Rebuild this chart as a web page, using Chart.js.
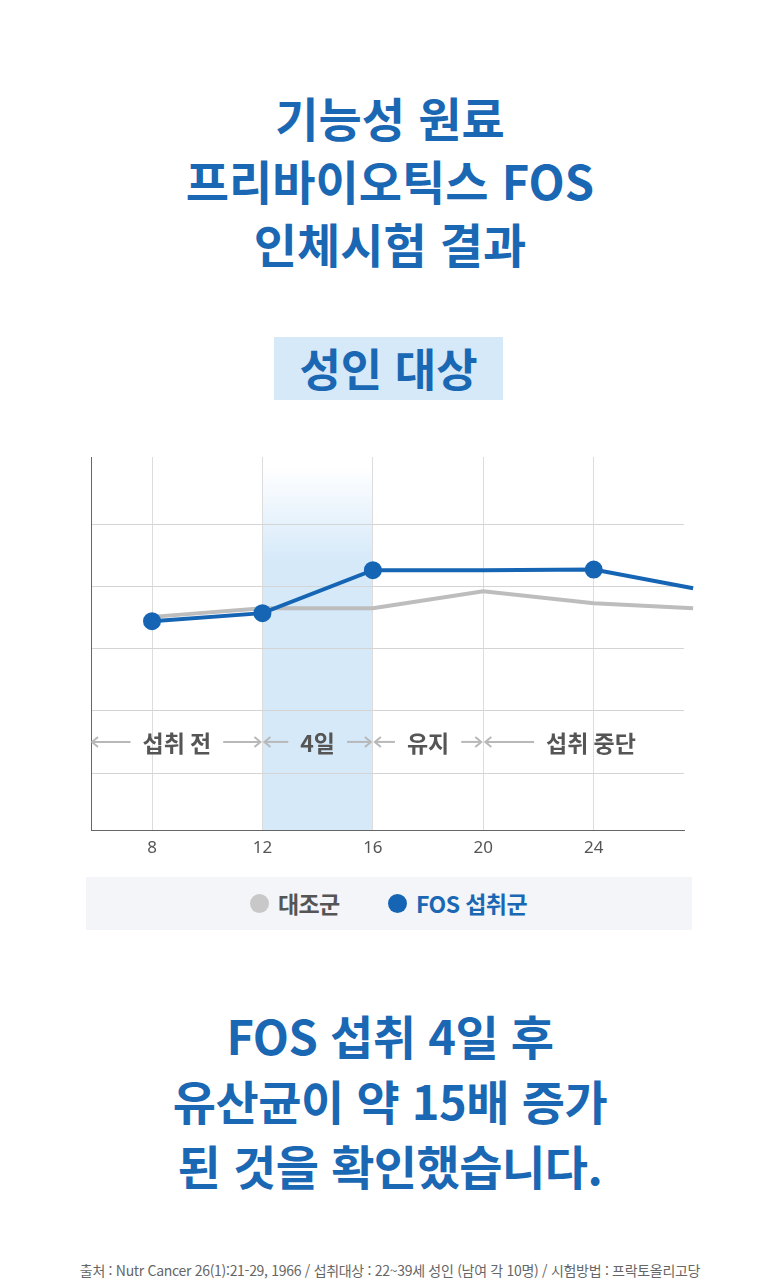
<!DOCTYPE html>
<html lang="ko">
<head>
<meta charset="utf-8">
<script src="https://cdn.jsdelivr.net/npm/chart.js@4.4.1/dist/chart.umd.min.js"></script>
<style>
  html,body{margin:0;padding:0;background:#fff;}
  body{width:780px;height:1280px;position:relative;overflow:hidden;font-family:"Noto Sans CJK KR","Noto Sans",sans-serif;}
  .title{position:absolute;left:0;width:780px;text-align:center;color:#1a67b3;font-weight:700;font-size:47px;line-height:63px;}
  .t2{letter-spacing:-0.5px;line-height:65px;}
  .badge{position:absolute;left:274px;top:337px;width:229px;height:63px;background:#d5e9f9;color:#1a67b3;font-weight:700;font-size:45px;line-height:62px;text-align:center;}
  .legend{position:absolute;left:86px;top:877px;width:606px;height:53px;background:#f3f5f8;}
  .li{position:absolute;top:0;height:53px;line-height:53px;font-weight:700;font-size:23px;letter-spacing:-0.6px;}
  .dot{position:absolute;width:19px;height:19px;border-radius:50%;top:17px;}
  .foot{position:absolute;left:0;width:780px;top:1259px;text-align:center;color:#666;font-size:14px;line-height:22px;letter-spacing:-0.3px;}
  #wrap{position:absolute;left:0;top:440px;width:780px;height:430px;}
</style>
</head>
<body>
<div class="title" style="top:85px;">기능성 원료<br>프리바이오틱스 FOS<br>인체시험 결과</div>
<div class="badge">성인 대상</div>
<div id="wrap"><canvas id="c" width="780" height="430"></canvas></div>
<div class="legend">
  <div class="dot" style="left:164px;background:#c8c8c8;"></div>
  <div class="li" style="left:192px;color:#555;">대조군</div>
  <div class="dot" style="left:302px;background:#1565b4;"></div>
  <div class="li" style="left:330px;color:#1a67b3;">FOS 섭취군</div>
</div>
<div class="title t2" style="top:1002px;">FOS 섭취 4일 후<br>유산균이 약 15배 증가<br>된 것을 확인했습니다.</div>
<div class="foot">출처 : Nutr Cancer 26(1):21-29, 1966 / 섭취대상 : 22~39세 성인 (남여 각 10명) / 시험방법 : 프락토올리고당</div>
<script>
// ---- data ----
const xTicks = [8, 12, 16, 20, 24];
const yGrid = [1, 2, 3, 4, 5];
const fosX = [8, 12, 16, 20, 24, 27.6];
const fosY = [3.44, 3.57, 4.26, 4.26, 4.27, 3.97];
const fosMarkers = [true, true, true, false, true, false];
const ctrlX = [8, 12, 16, 20, 24, 27.6];
const ctrlY = [3.51, 3.65, 3.65, 3.92, 3.73, 3.65];
const phaseLabels = ['섭취 전', '4일', '유지', '섭취 중단'];
const phaseCenters = [8.9, 14, 18, 23.9];
const phaseBounds = [[null, 12], [12, 16], [16, 20], [20, null]];
const phaseRowY = 1.5;
const bandRange = [12, 16];
const X_MIN = 5.79, X_MAX = 27.27, Y_MIN = 0.084, Y_MAX = 6.08;

const toPts = (xs, ys) => xs.map((x, i) => ({x, y: ys[i]}));

const bandPlugin = {
  id: 'band',
  beforeDraw(chart) {
    const {ctx, chartArea, scales} = chart;
    const x0 = scales.x.getPixelForValue(bandRange[0]);
    const x1 = scales.x.getPixelForValue(bandRange[1]);
    const top = chartArea.top + 10, bottom = chartArea.bottom;
    const g = ctx.createLinearGradient(0, top, 0, top + 95);
    g.addColorStop(0, 'rgba(213,233,249,0)');
    g.addColorStop(1, 'rgba(213,233,249,1)');
    ctx.save();
    ctx.fillStyle = g;
    ctx.fillRect(x0, top, x1 - x0, bottom - top);
    ctx.restore();
  }
};

function arrowHead(ctx, x, y, dir) {
  ctx.beginPath();
  ctx.moveTo(x - dir * 6, y - 5);
  ctx.lineTo(x, y);
  ctx.lineTo(x - dir * 6, y + 5);
  ctx.stroke();
}

const phasePlugin = {
  id: 'phases',
  afterDatasetsDraw(chart) {
    const {ctx, chartArea, scales} = chart;
    const y = scales.y.getPixelForValue(phaseRowY);
    ctx.save();
    ctx.font = 'bold 23px "Noto Sans CJK KR", sans-serif';
    ctx.textAlign = 'center';
    ctx.textBaseline = 'middle';
    ctx.strokeStyle = '#b8b8b8';
    ctx.lineWidth = 2;
    phaseLabels.forEach((lab, i) => {
      const cx = scales.x.getPixelForValue(phaseCenters[i]);
      const w = ctx.measureText(lab).width;
      const [b0, b1] = phaseBounds[i];
      const left = b0 === null ? chartArea.left + 1 : scales.x.getPixelForValue(b0) + 2;
      ctx.beginPath();
      ctx.moveTo(left, y);
      ctx.lineTo(cx - w / 2 - 12, y);
      ctx.stroke();
      arrowHead(ctx, left, y, -1);
      if (b1 !== null) {
        const right = scales.x.getPixelForValue(b1) - 2;
        ctx.beginPath();
        ctx.moveTo(cx + w / 2 + 12, y);
        ctx.lineTo(right, y);
        ctx.stroke();
        arrowHead(ctx, right, y, 1);
      }
      ctx.fillStyle = '#555';
      ctx.fillText(lab, cx, y + 1);
    });
    ctx.restore();
  }
};

new Chart(document.getElementById('c'), {
  type: 'line',
  data: {
    datasets: [
      {
        label: 'FOS 섭취군',
        data: toPts(fosX, fosY),
        borderColor: '#1565b4',
        backgroundColor: '#1565b4',
        borderWidth: 4,
        pointRadius: fosMarkers.map(m => m ? 7 : 0),
        pointHoverRadius: 7,
        tension: 0,
        clip: false,
        order: 0
      },
      {
        label: '대조군',
        data: toPts(ctrlX, ctrlY),
        borderColor: '#bdbdbd',
        backgroundColor: '#bdbdbd',
        borderWidth: 4,
        pointRadius: 0,
        tension: 0,
        clip: false,
        order: 1
      }
    ]
  },
  options: {
    responsive: false,
    animation: false,
    layout: {padding: {left: 91, right: 96, top: 17, bottom: 0}},
    plugins: {legend: {display: false}, tooltip: {enabled: false}},
    scales: {
      x: {
        type: 'linear',
        min: X_MIN, max: X_MAX,
        afterBuildTicks: s => { s.ticks = xTicks.map(v => ({value: v})); },
        afterFit: s => { s.height = 40; },
        grid: {color: '#dcdcdc', lineWidth: 1, drawTicks: false},
        border: {color: '#666', width: 1},
        ticks: {color: '#555', font: {family: 'Noto Sans', size: 17}, padding: 8}
      },
      y: {
        type: 'linear',
        min: Y_MIN, max: Y_MAX,
        afterBuildTicks: s => { s.ticks = yGrid.map(v => ({value: v})); },
        afterFit: s => { s.width = 0; },
        grid: {color: '#d4d4d4', lineWidth: 1, drawTicks: false},
        border: {color: '#666', width: 1},
        ticks: {display: false}
      }
    }
  },
  plugins: [bandPlugin, phasePlugin]
});
</script>
</body>
</html>
